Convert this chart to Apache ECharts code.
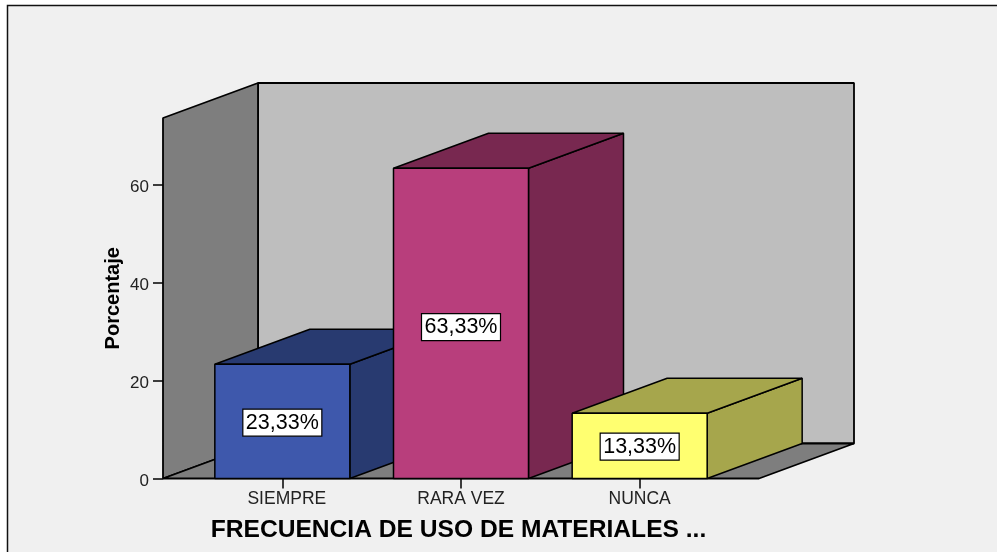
<!DOCTYPE html>
<html>
<head>
<meta charset="utf-8">
<style>html,body{margin:0;padding:0;background:#fff}#c{width:997px;height:552px}</style>
<script src="https://cdn.jsdelivr.net/npm/echarts@6/dist/echarts.min.js"></script>
</head>
<body>
<div id="c"></div>
<script>
const categories = ['SIEMPRE', 'RARA VEZ', 'NUNCA'];
const values = [23.33, 63.33, 13.33];
const valueLabels = ['23,33%', '63,33%', '13,33%'];
const yTicks = [0, 20, 40, 60];
const yTop = 73.57;
const frontColors = ['#3E58AC', '#B83E7C', '#FFFF70'];
const sideColors = ['#283A70', '#782850', '#A6A64C'];
const xTitle = 'FRECUENCIA DE USO DE MATERIALES ...';
const yTitle = 'Porcentaje';

const DX = 95, DY = -35, BAR_W = 135, AXIS_GAP = 30;
const font = '"Liberation Sans", Arial, sans-serif';
const poly = (points, fill, lw) => ({
  type: 'polygon',
  shape: { points },
  style: { fill, stroke: '#000', lineWidth: lw, lineJoin: 'bevel' }
});

function renderWalls(params, api) {
  const cs = params.coordSys;
  const l = cs.x - AXIS_GAP, r = cs.x + cs.width + AXIS_GAP;
  const b = api.coord([0, 0])[1], t = api.coord([0, yTop])[1];
  return {
    type: 'group',
    children: [
      poly([[l + DX, t + DY], [r + DX, t + DY], [r + DX, b + DY], [l + DX, b + DY]], '#BEBEBE', 1.8),
      poly([[l, t], [l + DX, t + DY], [l + DX, b + DY], [l, b]], '#7E7E7E', 1.8),
      poly([[l, b], [l + DX, b + DY], [r + DX, b + DY], [r, b]], '#7E7E7E', 1.8)
    ]
  };
}

function renderBar(params, api) {
  const i = params.dataIndex;
  const v = api.value(1);
  const [cx, top] = api.coord([i, v]);
  const base = api.coord([i, 0])[1];
  const x0 = cx - BAR_W / 2, x1 = cx + BAR_W / 2;
  const labelY = api.coord([i, v * 0.488])[1];
  return {
    type: 'group',
    children: [
      poly([[x1, top], [x1 + DX, top + DY], [x1 + DX, base + DY], [x1, base]], sideColors[i], 1.5),
      poly([[x0, top], [x0 + DX, top + DY], [x1 + DX, top + DY], [x1, top]], sideColors[i], 1.5),
      poly([[x0, top], [x1, top], [x1, base], [x0, base]], frontColors[i], 1.5),
      {
        type: 'rect',
        shape: { x: cx - 39.5, y: labelY - 13.5, width: 79, height: 27 },
        style: { fill: '#fff', stroke: '#000', lineWidth: 1.2 }
      },
      {
        type: 'text',
        style: {
          x: cx, y: labelY + 0.5, text: valueLabels[i], fill: '#000',
          font: '21.5px ' + font, align: 'center', verticalAlign: 'middle'
        }
      }
    ]
  };
}

const chart = echarts.init(document.getElementById('c'), null, { renderer: 'canvas' });
chart.setOption({
  animation: false,
  backgroundColor: '#fff',
  graphic: [{
    type: 'rect', z: -10, silent: true,
    shape: { x: 7.5, y: 5.5, width: 1010, height: 570 },
    style: { fill: '#F0F0F0', stroke: '#111', lineWidth: 1.5 }
  }],
  grid: { left: 193, width: 536, top: 118, height: 360.5 },
  xAxis: {
    type: 'category',
    data: categories,
    axisLine: { show: false },
    axisTick: { show: true, alignWithLabel: true, length: 10, lineStyle: { color: '#000', width: 1.5 } },
    axisLabel: {
      color: '#222', fontFamily: font, fontSize: 17.5, margin: 12, interval: 0,
      formatter: (v, i) => (i === 0 ? '{first|' + v + '}' : v),
      rich: { first: { color: '#222', fontFamily: font, fontSize: 17.5, padding: [0, 0, 0, 9] } }
    },
    name: xTitle,
    nameLocation: 'middle',
    nameGap: 39,
    nameTextStyle: { fontFamily: font, fontSize: 24.6, fontWeight: 'bold', color: '#000', padding: [0, 5, 0, 0] }
  },
  yAxis: {
    type: 'value',
    min: 0,
    max: yTop,
    offset: AXIS_GAP,
    splitLine: { show: false },
    axisLine: { show: false },
    axisTick: { show: true, customValues: yTicks, length: 10, lineStyle: { color: '#000', width: 1.5 } },
    axisLabel: {
      customValues: yTicks, color: '#222', fontFamily: font, fontSize: 17, margin: 14,
      formatter: v => '{n|' + v + '}',
      rich: { n: { color: '#222', fontFamily: font, fontSize: 17, padding: [5, 0, 0, 0] } }
    },
    name: yTitle,
    nameLocation: 'middle',
    nameRotate: 90,
    nameGap: 40,
    nameMoveOverlap: false,
    nameTextStyle: { fontFamily: font, fontSize: 20, fontWeight: 'bold', color: '#000' }
  },
  series: [
    { type: 'custom', z: 1, silent: true, renderItem: renderWalls, data: [[0, yTop]], encode: { x: 0, y: 1 } },
    { type: 'custom', z: 2, silent: true, renderItem: renderBar, data: values.map((v, i) => [i, v]), encode: { x: 0, y: 1 } }
  ]
});
</script>
</body>
</html>
